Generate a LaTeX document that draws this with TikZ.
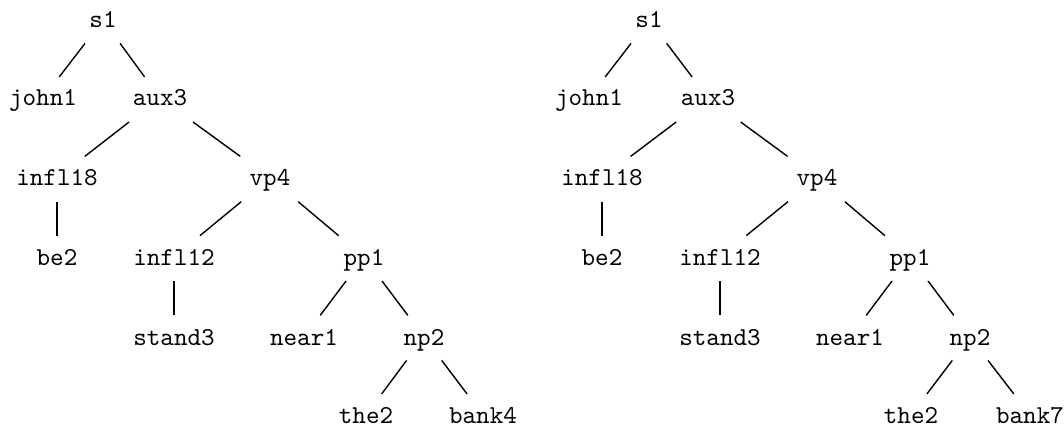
\documentclass[tikz,border=0pt]{standalone}
\usepackage{fontspec}
\usepackage{tikz}
\usetikzlibrary{calc}
\usetikzlibrary{positioning}

\newfontfamily\treefont{lmmono10-regular}[Extension=.otf]
\tikzset{word/.style={font=\treefont\fontsize{12.9}{15}\selectfont, inner sep=0pt, text height=8pt, text depth=0pt}}
\tikzset{branch/.style={line width=0.7pt}}

\begin{document}
\begin{tikzpicture}[x=0.5pt,y=-0.5pt]
\useasboundingbox (0,0) rectangle (1064,427);

\node[word] (ls1) at (103,20) {s1};
\node[word] (ljohn1) at (43,98) {john1};
\node[word] (laux3) at (160,98) {aux3};
\node[word] (linfl18) at (57,178) {infl18};
\node[word] (lvp4) at (270,178) {vp4};
\node[word] (lbe2) at (57,257) {be2};
\node[word] (linfl12) at (174,257) {infl12};
\node[word] (lpp1) at (364,257) {pp1};
\node[word] (lstand3) at (174,337) {stand3};
\node[word] (lnear1) at (304,337) {near1};
\node[word] (lnp2) at (424,337) {np2};
\node[word] (lthe2) at (366,415) {the2};
\node[word] (lbank4) at (483,415) {bank4};

\node[word] (rs1) at (649,20) {s1};
\node[word] (rjohn1) at (589,98) {john1};
\node[word] (raux3) at (708,98) {aux3};
\node[word] (rinfl18) at (602,178) {infl18};
\node[word] (rvp4) at (817,178) {vp4};
\node[word] (rbe2) at (602,257) {be2};
\node[word] (rinfl12) at (720,257) {infl12};
\node[word] (rpp1) at (910,257) {pp1};
\node[word] (rstand3) at (720,337) {stand3};
\node[word] (rnear1) at (850,337) {near1};
\node[word] (rnp2) at (970,337) {np2};
\node[word] (rthe2) at (911,415) {the2};
\node[word] (rbank7) at (1030,415) {bank7};

\draw[branch] ($(ls1)!0.3!(ljohn1)$) -- ($(ls1)!0.73!(ljohn1)$);
\draw[branch] ($(ls1)!0.3!(laux3)$) -- ($(ls1)!0.73!(laux3)$);
\draw[branch] ($(laux3)!0.3!(linfl18)$) -- ($(laux3)!0.73!(linfl18)$);
\draw[branch] ($(laux3)!0.3!(lvp4)$) -- ($(laux3)!0.73!(lvp4)$);
\draw[branch] ($(linfl18)!0.3!(lbe2)$) -- ($(linfl18)!0.73!(lbe2)$);
\draw[branch] ($(lvp4)!0.3!(linfl12)$) -- ($(lvp4)!0.73!(linfl12)$);
\draw[branch] ($(lvp4)!0.3!(lpp1)$) -- ($(lvp4)!0.73!(lpp1)$);
\draw[branch] ($(linfl12)!0.3!(lstand3)$) -- ($(linfl12)!0.73!(lstand3)$);
\draw[branch] ($(lpp1)!0.3!(lnear1)$) -- ($(lpp1)!0.73!(lnear1)$);
\draw[branch] ($(lpp1)!0.3!(lnp2)$) -- ($(lpp1)!0.73!(lnp2)$);
\draw[branch] ($(lnp2)!0.3!(lthe2)$) -- ($(lnp2)!0.73!(lthe2)$);
\draw[branch] ($(lnp2)!0.3!(lbank4)$) -- ($(lnp2)!0.73!(lbank4)$);

\draw[branch] ($(rs1)!0.3!(rjohn1)$) -- ($(rs1)!0.73!(rjohn1)$);
\draw[branch] ($(rs1)!0.3!(raux3)$) -- ($(rs1)!0.73!(raux3)$);
\draw[branch] ($(raux3)!0.3!(rinfl18)$) -- ($(raux3)!0.73!(rinfl18)$);
\draw[branch] ($(raux3)!0.3!(rvp4)$) -- ($(raux3)!0.73!(rvp4)$);
\draw[branch] ($(rinfl18)!0.3!(rbe2)$) -- ($(rinfl18)!0.73!(rbe2)$);
\draw[branch] ($(rvp4)!0.3!(rinfl12)$) -- ($(rvp4)!0.73!(rinfl12)$);
\draw[branch] ($(rvp4)!0.3!(rpp1)$) -- ($(rvp4)!0.73!(rpp1)$);
\draw[branch] ($(rinfl12)!0.3!(rstand3)$) -- ($(rinfl12)!0.73!(rstand3)$);
\draw[branch] ($(rpp1)!0.3!(rnear1)$) -- ($(rpp1)!0.73!(rnear1)$);
\draw[branch] ($(rpp1)!0.3!(rnp2)$) -- ($(rpp1)!0.73!(rnp2)$);
\draw[branch] ($(rnp2)!0.3!(rthe2)$) -- ($(rnp2)!0.73!(rthe2)$);
\draw[branch] ($(rnp2)!0.3!(rbank7)$) -- ($(rnp2)!0.73!(rbank7)$);

\end{tikzpicture}
\end{document}
